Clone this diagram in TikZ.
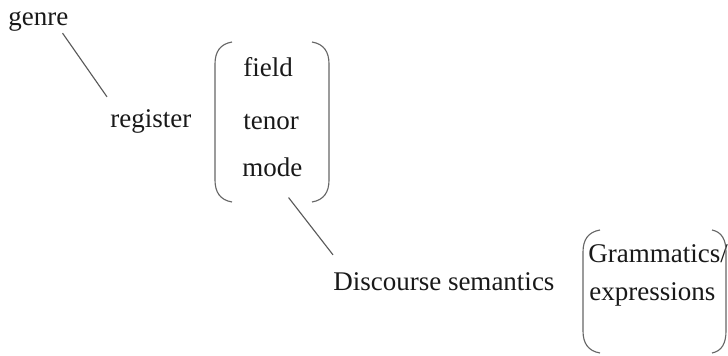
\documentclass[tikz,border=0pt]{standalone}
\usepackage{fontspec}
\setmainfont{Liberation Serif}
\usetikzlibrary{positioning}

\begin{document}
\begin{tikzpicture}[x=0.025cm, y=-0.025cm,
                    lbl/.style = {anchor=base west, inner sep=0pt,
                                  font=\fontsize{19.2}{23}\selectfont, text=black!90},
                    link/.style = {draw=black!65, line width=0.8pt},
                    brk/.style = {draw=black!60, line width=0.8pt}
                   ]

    \useasboundingbox (0,0) rectangle (728,355);

    \node[lbl] (genre) at (8,25) {genre};
    \node[lbl] (register) at (110,127) {register};
    \node[lbl] (field) at (243,76) {field};
    \node[lbl] (tenor) at (243,129) {tenor};
    \node[lbl] (mode) at (242,176) {mode};
    \node[lbl] (disc) at (333,290) {Discourse semantics};
    \node[lbl] (gram) at (588,262) {Grammatics/};
    \node[lbl] (expr) at (589,300) {expressions};

    % field / tenor / mode
    \draw[brk] (232,42) .. controls (220,44) and (215,52) .. (215,64) -- (215,180)
        .. controls (215,192) and (220,200) .. (232,202);
    \draw[brk] (312,42) .. controls (324,44) and (329,52) .. (329,64) -- (329,180)
        .. controls (329,192) and (324,200) .. (312,202);

    % grammatics / expressions
    \draw[brk] (600,230) .. controls (588,232) and (583,240) .. (583,252) -- (583,331)
        .. controls (583,343) and (588,351) .. (600,353);
    \draw[brk] (712,230) .. controls (722,232) and (726,240) .. (726,252) -- (726,331)
        .. controls (726,343) and (722,351) .. (712,353);

    \draw[link] ([shift={(-6,2)}]genre.south east) -- ([shift={(-3,-12)}]register.north west);
    \draw[link] ([shift={(-14,21)}]mode.south east) -- ([shift={(0,-17)}]disc.north west);

\end{tikzpicture}
\end{document}
